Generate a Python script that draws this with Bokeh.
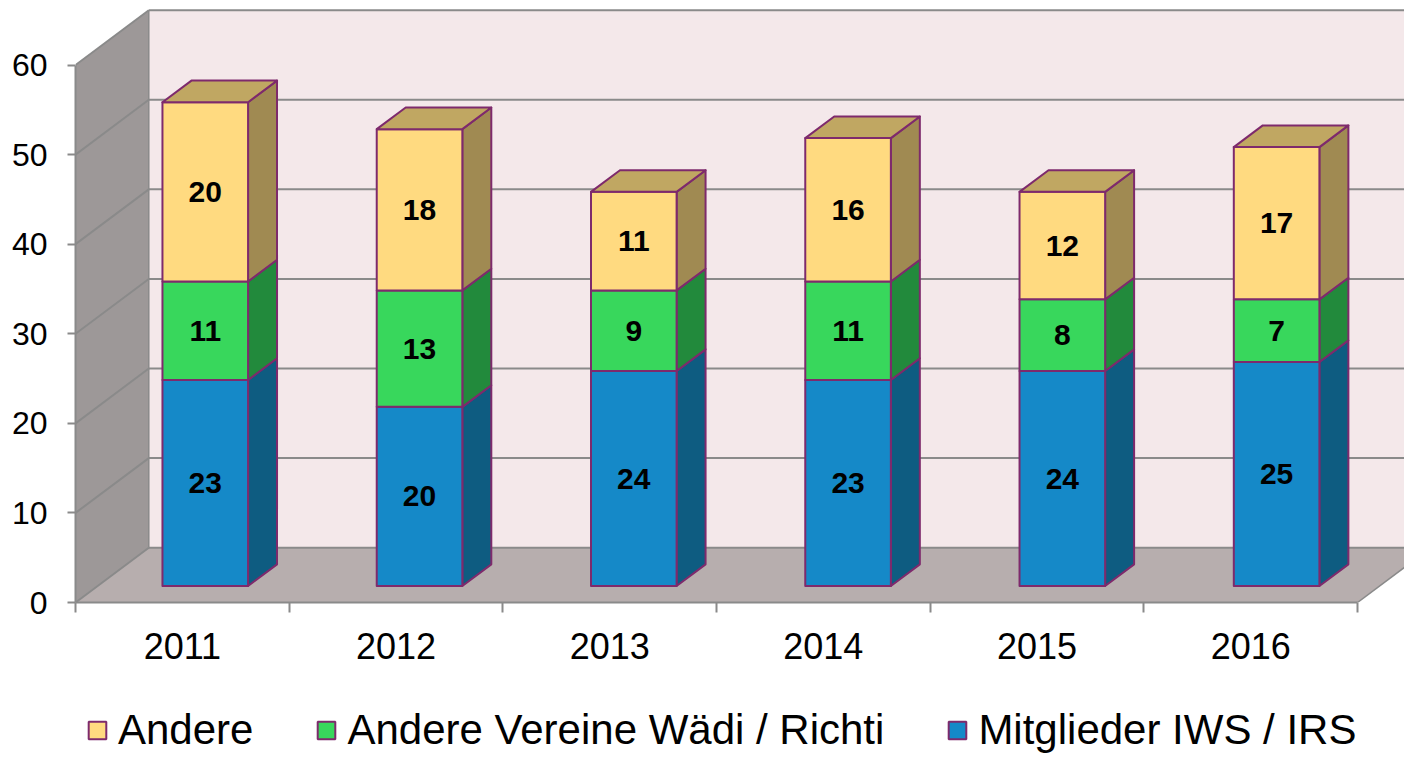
from bokeh.plotting import figure
from bokeh.layouts import column
from bokeh.models import FixedTicker, Legend, LegendItem, Range1d
from bokeh.embed import file_html
from bokeh.resources import INLINE
from bokeh.core.properties import value

# ---------------- data ----------------
years = ["2011", "2012", "2013", "2014", "2015", "2016"]
mitglieder = [23, 20, 24, 23, 24, 25]          # Mitglieder IWS / IRS (bottom)
vereine = [11, 13, 9, 11, 8, 7]                # Andere Vereine Wädi / Richti (middle)
andere = [20, 18, 11, 16, 12, 17]              # Andere (top)
series_labels = ["Mitglieder IWS / IRS", "Andere Vereine Wädi / Richti", "Andere"]
y_ticks = [0, 10, 20, 30, 40, 50, 60]

# ---------------- styles ----------------
FRONT = ["#1589C8", "#38D75C", "#FFDA80"]
SIDE = ["#0E5C81", "#228A3C", "#A08A52"]
TOP = "#C0A762"
EDGE = "#7E2A6C"
GRID = "#8A8A8A"
BACKWALL = "#F4E8EA"
SIDEWALL = "#9D9898"
FLOOR = "#B7AEAE"
FONT = "Liberation Sans"

# ---------------- layout ----------------
W = 1404
LEFT = 75
FRAME_H = 602
BOTTOM = 70
LEG_H = 83
PX_X = 213.67   # px per category
PX_Y = 8.958    # px per unit
x_end = (W - LEFT) / PX_X
y_end = FRAME_H / PX_Y
DX, DY = 0.343, 6.12          # depth of the box (walls)
BASE = 1.84                    # bar base level (perspective)
BAR_X0, BAR_STEP = 0.407, 0.0028
BAR_W = 0.4006
BDX, BDY = 0.1356, 2.42        # bar depth
n = len(years)
ymax = y_ticks[-1]

p = figure(width=W, height=FRAME_H + BOTTOM, x_range=Range1d(0, x_end), y_range=Range1d(0, y_end),
           output_backend="svg", toolbar_location=None,
           min_border_left=LEFT, min_border_right=0, min_border_top=0,
           min_border_bottom=BOTTOM, outline_line_color=None,
           background_fill_color="white", border_fill_color="white")
p.xgrid.visible = False
p.ygrid.visible = False

# walls and floor
p.patch([DX, DX, x_end + 1, x_end + 1], [DY, ymax + DY, ymax + DY, DY],
        fill_color=BACKWALL, line_color=None)
p.patch([0, 0, DX, DX], [0, ymax, ymax + DY, DY], fill_color=SIDEWALL, line_color=None)
p.patch([0, n, n + DX, DX], [0, 0, DY, DY], fill_color=FLOOR, line_color=None)

# gridlines (back wall + side wall)
gx0, gx1, gy0, gy1 = [], [], [], []
for v in y_ticks:
    gx0 += [DX, 0]
    gx1 += [x_end + 1, DX]
    gy0 += [v + DY, v]
    gy1 += [v + DY, v + DY]
p.segment(gx0, gy0, gx1, gy1, line_color=GRID, line_width=2)
p.segment([DX, n], [DY, 0], [DX, n + DX], [ymax + DY, DY], line_color=GRID, line_width=1.5)

# bars
series = [mitglieder, vereine, andere]
cum = [0] * n
lx, ly, lt = [], [], []
for s, vals in enumerate(series):
    lefts, rights, bottoms, tops = [], [], [], []
    sxs, sys = [], []
    for i, v in enumerate(vals):
        x0 = i + BAR_X0 + BAR_STEP * i
        x1 = x0 + BAR_W
        yb = BASE + cum[i]
        yt = yb + v
        lefts.append(x0); rights.append(x1); bottoms.append(yb); tops.append(yt)
        sxs.append([x1, x1 + BDX, x1 + BDX, x1])
        sys.append([yb, yb + BDY, yt + BDY, yt])
        lx.append((x0 + x1) / 2); ly.append((yb + yt) / 2); lt.append(str(v))
        cum[i] += v
    p.patches(sxs, sys, fill_color=SIDE[s], line_color=EDGE, line_width=2, line_join="round")
    p.quad(left=lefts, right=rights, bottom=bottoms, top=tops,
           fill_color=FRONT[s], line_color=EDGE, line_width=2, line_join="round")

# top faces
txs, tys = [], []
for i in range(n):
    x0 = i + BAR_X0 + BAR_STEP * i
    x1 = x0 + BAR_W
    T = BASE + cum[i]
    txs.append([x0, x1, x1 + BDX, x0 + BDX])
    tys.append([T, T, T + BDY, T + BDY])
p.patches(txs, tys, fill_color=TOP, line_color=EDGE, line_width=2, line_join="round")

# value labels
p.text(lx, ly, text=lt, text_align="center", text_baseline="middle",
       text_font=value(FONT), text_font_size="30px", text_font_style="bold",
       text_color="black")

# y axis
ya = p.yaxis[0]
ya.ticker = FixedTicker(ticks=y_ticks)
ya.bounds = (0, ymax)
ya.axis_line_color = GRID
ya.axis_line_width = 2
ya.major_tick_line_color = GRID
ya.major_tick_line_width = 2
ya.major_tick_out = 8
ya.major_tick_in = 0
ya.minor_tick_line_color = None
ya.major_label_text_font = FONT
ya.major_label_text_font_size = "32px"
ya.major_label_text_color = "black"
ya.major_label_standoff = 20

# x axis
xa = p.xaxis[0]
centers = [i + 0.5 for i in range(n)]
xa.ticker = FixedTicker(ticks=centers, minor_ticks=list(range(n + 1)))
xa.major_label_overrides = {c: y for c, y in zip(centers, years)}
xa.bounds = (0, n)
xa.axis_line_color = GRID
xa.axis_line_width = 2
xa.major_tick_out = 0
xa.major_tick_in = 0
xa.major_tick_line_color = None
xa.minor_tick_out = 10
xa.minor_tick_in = 0
xa.minor_tick_line_color = GRID
xa.minor_tick_line_width = 2
xa.major_label_text_font = FONT
xa.major_label_text_font_size = "36px"
xa.major_label_text_color = "black"
xa.major_label_standoff = 20

# ---------------- legend (separate strip) ----------------
q = figure(width=W, height=LEG_H, x_range=Range1d(0, 1), y_range=Range1d(0, 1),
           output_backend="svg", toolbar_location=None,
           x_axis_location=None, y_axis_location=None,
           min_border=0, outline_line_color=None,
           background_fill_color="white", border_fill_color="white")
q.xgrid.visible = False
q.ygrid.visible = False
dummies = []
for s in range(3):
    # legend proxies placed outside the visible range
    dummies.append(q.quad(left=[-3], right=[-2], top=[-2], bottom=[-3],
                          fill_color=FRONT[s], line_color=EDGE, line_width=2))
order = [2, 1, 0]
items = [LegendItem(label=series_labels[k], renderers=[dummies[k]]) for k in order]
legend = Legend(items=items, orientation="horizontal", location=(11, 1),
                glyph_width=22, glyph_height=22, label_height=22,
                label_standoff=10, spacing=62, padding=0, margin=0,
                border_line_color=None, background_fill_alpha=0,
                label_text_font=FONT, label_text_font_size="42px",
                label_text_color="black")
q.add_layout(legend, "center")

layout = column(p, q, spacing=0)
open("out.html", "w").write(file_html(layout, INLINE))
